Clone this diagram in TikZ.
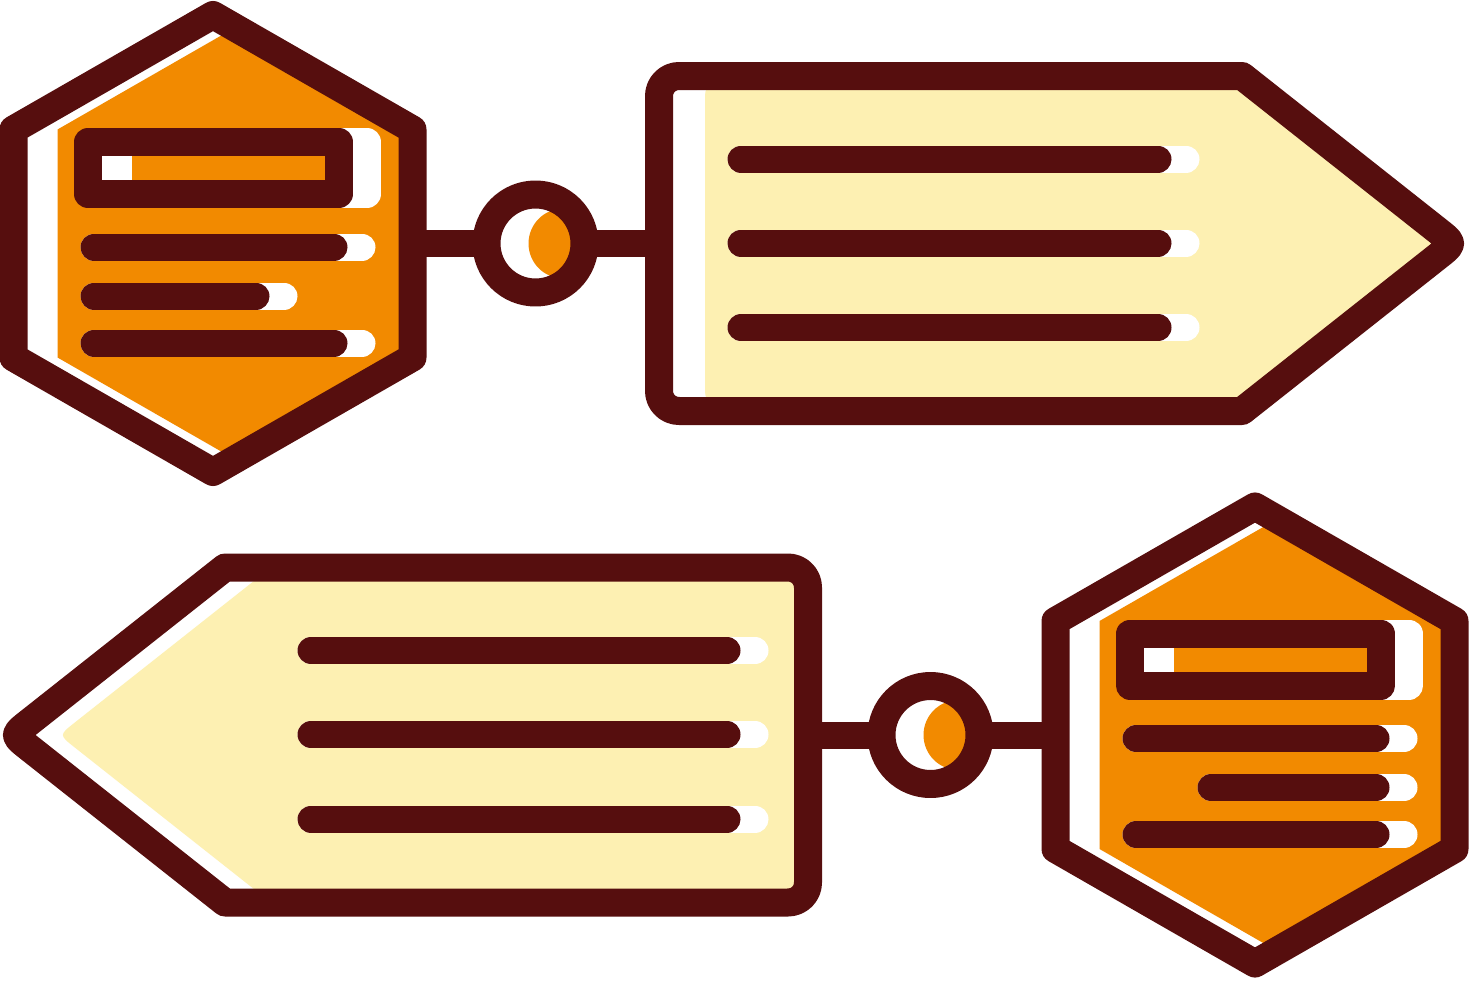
\documentclass[tikz,border=0pt]{standalone}
\usepackage{tikz}
\usetikzlibrary{positioning,calc}

\definecolor{maroon}{HTML}{560E0E}
\definecolor{amber}{HTML}{F28A00}
\definecolor{cream}{HTML}{FDF0B2}

\tikzset{
  hexpath/.style={insert path={(0,-228.5) -- (199.5,-114) -- (199.5,114) -- (0,228.5) -- (-199.5,114) -- (-199.5,-114) -- cycle}},
  tagpath/.style={insert path={[rounded corners=20pt] (-396.5,0) -- (-396.5,-167.5) [sharp corners] -- (186.5,-167.5) -- (382.8,-12.4) .. controls (398.5,0) .. (382.8,12.4) -- (186.5,167.5) [rounded corners=20pt] -- (-396.5,167.5) -- cycle}}
}

\begin{document}
\begin{tikzpicture}[x=1pt,y=-1pt,
  rim/.style={draw=maroon,line width=28pt,line join=round},
  bar/.style={line width=27pt,line cap=round},
  link/.style={draw=maroon,line width=27pt},
  dot/.style={circle,rim,fill=white,minimum size=98pt,inner sep=0pt,outer sep=0pt,
    path picture={\fill[amber] ([xshift=28pt]path picture bounding box.center) circle (35pt);}}]

  \useasboundingbox (0,0) rectangle (1469,980);

  % hexagon cards
  \foreach \cx/\cy/\la/\lb [count=\i] in {213/243.5/-119/43, 1255/735/-44/121}{
    \begin{scope}[shift={(\cx,\cy)}]
      \fill[white] [hexpath];
      \begin{scope}
        \clip [hexpath];
        \fill[amber,xshift=44pt] [hexpath];
      \end{scope}
      \draw[rim] [hexpath];
      \coordinate (hex\i-e) at (199.5,0);
      \coordinate (hex\i-w) at (-199.5,0);
      % title box
      \draw[rim,draw=white,fill=white] (-97,-101.5) rectangle (154,-49.5);
      \fill[amber] (-81,-101.5) rectangle (126,-49.5);
      \draw[rim] (-125,-101.5) rectangle (126,-49.5);
      % text lines
      \foreach \ly/\xa/\xb in {3.5/-119/121, 52.5/\la/\lb, 99.5/-119/121}{
        \draw[bar,white] (\xa,\ly) -- ({\xb+28},\ly);
        \draw[bar,maroon] (\xa,\ly) -- (\xb,\ly);
      }
    \end{scope}
  }

  % pointed tags
  \foreach \tx/\ty/\s/\la/\lb [count=\i] in {1055.5/243.5/1/-314.5/102.5, 411.5/735/-1/-100.5/315.5}{
    \begin{scope}[shift={(\tx,\ty)}]
      \begin{scope}[xscale=\s]
        \fill[white] [tagpath];
        \begin{scope}
          \clip [tagpath];
          \fill[cream,xshift=\s*46] [tagpath];
        \end{scope}
        \draw[rim] [tagpath];
        \coordinate (tag\i-tail) at (-396.5,0);
      \end{scope}
      \foreach \ly in {-84.5,-0.5,84}{
        \draw[bar,white] (\la,\ly) -- ({\lb+28},\ly);
        \draw[bar,maroon] (\la,\ly) -- (\lb,\ly);
      }
    \end{scope}
  }

  \node[dot] (dotA) at (535.5,243.5) {};
  \node[dot] (dotB) at (930.5,735) {};

  \draw[link] (hex1-e) -- (dotA) -- (tag1-tail);
  \draw[link] (tag2-tail) -- (dotB) -- (hex2-w);

\end{tikzpicture}
\end{document}
